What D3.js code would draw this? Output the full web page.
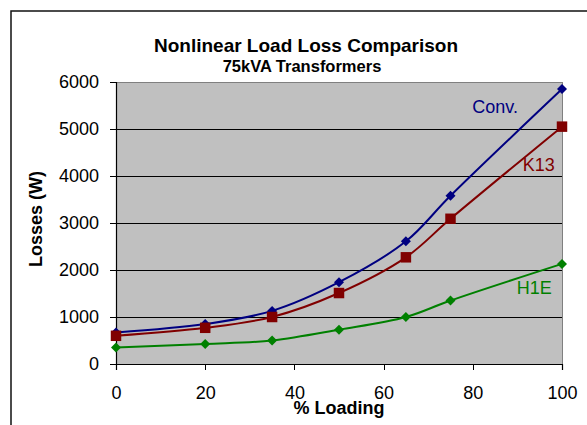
<!DOCTYPE html>
<html>
<head>
<meta charset="utf-8">
<script src="https://cdn.jsdelivr.net/npm/d3@7"></script>
<style>
  body { margin: 0; background: #fff; }
  svg text { font-family: "Liberation Sans", Arial, sans-serif; }
</style>
</head>
<body>
<div id="canvas"></div>
<script>
"use strict"

// data
let loading = [0, 20, 35, 50, 65, 75, 100];
let conv = [670, 850, 1130, 1740, 2610, 3580, 5850];
let k13 = [600, 770, 1000, 1510, 2270, 3090, 5050];
let h1e = [350, 425, 500, 730, 1000, 1350, 2130];
let xTicks = [0, 20, 40, 60, 80, 100];
let yTicks = [0, 1000, 2000, 3000, 4000, 5000, 6000];
let seriesNames = ["Conv.", "K13", "H1E"];
// where the series names sit, in data units
let labelX = [85, 94.8, 93.8];
let labelY = [5350, 4100, 1480];

let drawingWidth = 587;
let drawingHeight = 425;

let plotLeft = 116;
let plotRight = 562;
let plotTop = 82;
let plotBottom = 364;

let drawing = d3.select("#canvas")
    .append("svg")
    .attr("width", drawingWidth)
    .attr("height", drawingHeight);

// outer chart border (runs off the right and bottom)
drawing.append("rect")
    .attr("x", 11)
    .attr("y", 11)
    .attr("width", 600)
    .attr("height", 440)
    .attr("fill", "#fff")
    .attr("stroke", "#111")
    .attr("stroke-width", 1.5);

let x = d3.scaleLinear().domain([0, 100]).range([plotLeft, plotRight]);
let y = d3.scaleLinear().domain([0, 6000]).range([plotBottom, plotTop]);

// plot area
drawing.append("rect")
    .attr("x", plotLeft)
    .attr("y", plotTop)
    .attr("width", plotRight - plotLeft)
    .attr("height", plotBottom - plotTop)
    .attr("fill", "#c0c0c0")
    .attr("stroke", "#808080")
    .attr("stroke-width", 1)
    .attr("shape-rendering", "crispEdges");

// gridlines
drawing.append("g")
    .selectAll("line")
    .data(yTicks.filter(d => d > 0 && d < 6000))
    .join("line")
    .attr("x1", plotLeft)
    .attr("x2", plotRight)
    .attr("y1", d => y(d))
    .attr("y2", d => y(d))
    .attr("stroke", "#000")
    .attr("stroke-width", 1)
    .attr("shape-rendering", "crispEdges");

// axes
let yAxis = drawing.append("g")
    .attr("transform", "translate(" + plotLeft + ",0)")
    .call(d3.axisLeft(y).tickValues(yTicks).tickSize(6).tickPadding(11).tickFormat(d3.format("d")));

let xAxis = drawing.append("g")
    .attr("transform", "translate(0," + plotBottom + ")")
    .call(d3.axisBottom(x).tickValues(xTicks).tickSize(6).tickPadding(16).tickFormat(d3.format("d")));

[yAxis, xAxis].forEach(function (ax) {
    ax.select(".domain").attr("stroke", "#000").attr("stroke-width", 1.2);
    ax.selectAll(".tick line").attr("stroke", "#000").attr("shape-rendering", "crispEdges");
    ax.selectAll(".tick text")
        .attr("font-family", "Liberation Sans, Arial, sans-serif")
        .attr("font-size", 18)
        .attr("fill", "#000");
});

// series
let allSeries = [conv, k13, h1e];
let colours = ["#000080", "#800000", "#008000"];

let line = d3.line()
    .x((d, i) => x(loading[i]))
    .y(d => y(d))
    .curve(d3.curveCatmullRom.alpha(0.5));

allSeries.forEach(function (values, s) {
    drawing.append("path")
        .datum(values)
        .attr("d", line)
        .attr("fill", "none")
        .attr("stroke", colours[s])
        .attr("stroke-width", 2);
});

// markers: diamonds for Conv. and H1E, squares for K13
let diamond = d3.symbol().type(d3.symbolDiamond2).size(64);
let square = d3.symbol().type(d3.symbolSquare).size(110);

allSeries.forEach(function (values, s) {
    drawing.append("g")
        .selectAll("path")
        .data(values)
        .join("path")
        .attr("transform", (d, i) => "translate(" + x(loading[i]) + "," + y(d) + ")")
        .attr("d", s === 1 ? square : diamond)
        .attr("fill", colours[s]);
});

// series names
drawing.append("g")
    .selectAll("text")
    .data(seriesNames)
    .join("text")
    .attr("x", (d, i) => x(labelX[i]))
    .attr("y", (d, i) => y(labelY[i]))
    .attr("text-anchor", "middle")
    .attr("font-size", 18)
    .attr("fill", (d, i) => colours[i])
    .text(d => d);

// titles
drawing.append("text")
    .attr("x", 306)
    .attr("y", 52)
    .attr("text-anchor", "middle")
    .attr("font-size", 19)
    .attr("font-weight", "bold")
    .text("Nonlinear Load Loss Comparison");

drawing.append("text")
    .attr("x", 302)
    .attr("y", 72)
    .attr("text-anchor", "middle")
    .attr("font-size", 16.5)
    .attr("font-weight", "bold")
    .text("75kVA Transformers");

drawing.append("text")
    .attr("x", 339)
    .attr("y", 414)
    .attr("text-anchor", "middle")
    .attr("font-size", 18)
    .attr("font-weight", "bold")
    .text("% Loading");

drawing.append("text")
    .attr("transform", "translate(42,219) rotate(-90)")
    .attr("text-anchor", "middle")
    .attr("font-size", 18)
    .attr("font-weight", "bold")
    .text("Losses (W)");
</script>
</body>
</html>
